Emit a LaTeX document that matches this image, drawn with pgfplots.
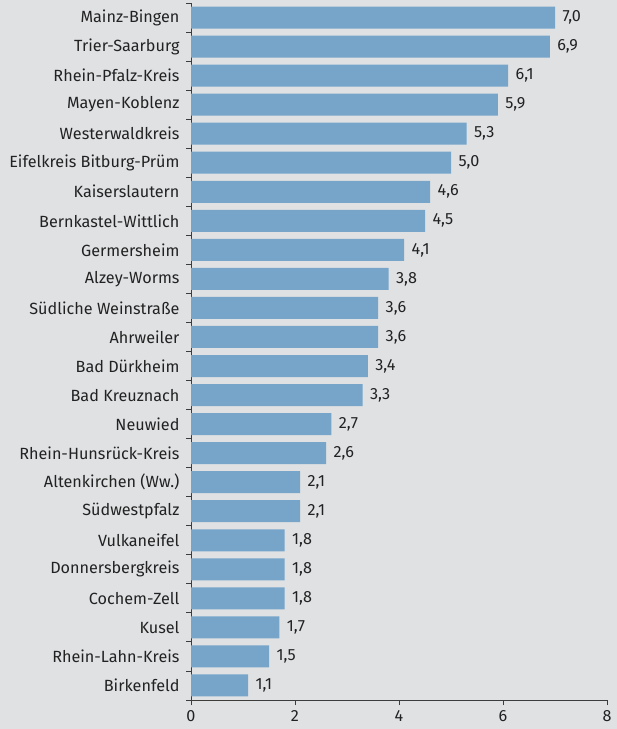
\documentclass[border=0pt]{standalone}
\usepackage{fontspec}
\setmainfont{Fira Sans}
\usepackage{pgfplots}
\pgfplotsset{compat=1.18}
\definecolor{bg}{HTML}{E0E1E3}
\definecolor{barblue}{HTML}{76A5C9}
\definecolor{ink}{HTML}{222222}
\definecolor{axisgrey}{HTML}{3C3C3C}

\begin{document}
\begin{tikzpicture}
\fill[bg] (0bp,0bp) rectangle (617bp,729bp);
\begin{axis}[
  at={(191bp,29bp)}, anchor=south west,
  scale only axis, width=416bp, height=697bp,
  xbar, bar width=22bp,
  xmin=0, xmax=8, ymin=-0.5, ymax=23.5, y dir=reverse,
  axis x line*=bottom, axis y line*=left,
  axis line style={axisgrey, line width=0.9bp},
  tick style={axisgrey, line width=0.9bp},
  tick align=outside,
  major tick length=5bp, minor tick length=5bp,
  xtick={0,2,4,6,8},
  ytick={0,...,23},
  major y tick style={draw=none},
  minor ytick={-0.5,0.5,...,23.5},
  yticklabels={Mainz-Bingen,Trier-Saarburg,Rhein-Pfalz-Kreis,Mayen-Koblenz,Westerwaldkreis,Eifelkreis Bitburg-Prüm,Kaiserslautern,Bernkastel-Wittlich,Germersheim,Alzey-Worms,Südliche Weinstraße,Ahrweiler,Bad Dürkheim,Bad Kreuznach,Neuwied,Rhein-Hunsrück-Kreis,Altenkirchen (Ww.),Südwestpfalz,Vulkaneifel,Donnersbergkreis,Cochem-Zell,Kusel,Rhein-Lahn-Kreis,Birkenfeld},
  ticklabel style={font=\fontsize{16.2bp}{19bp}\selectfont, text=ink},
  yticklabel style={xshift=-3bp},
  xticklabel style={yshift=-2bp},
  /pgf/number format/assume math mode=true,
  point meta=x,
  nodes near coords={\pgfmathprintnumber[fixed,fixed zerofill,precision=1,use comma]{\pgfplotspointmeta}},
  nodes near coords align={horizontal},
  every node near coord/.append style={font=\fontsize{16.2bp}{19bp}\selectfont, text=ink, xshift=4bp},
  clip=false,
]
\addplot[fill=barblue, draw=none] coordinates {
  (7.0,0) (6.9,1) (6.1,2) (5.9,3) (5.3,4) (5.0,5) (4.6,6) (4.5,7)
  (4.1,8) (3.8,9) (3.6,10) (3.6,11) (3.4,12) (3.3,13) (2.7,14) (2.6,15)
  (2.1,16) (2.1,17) (1.8,18) (1.8,19) (1.8,20) (1.7,21) (1.5,22) (1.1,23)
};
\end{axis}
\end{tikzpicture}
\end{document}
